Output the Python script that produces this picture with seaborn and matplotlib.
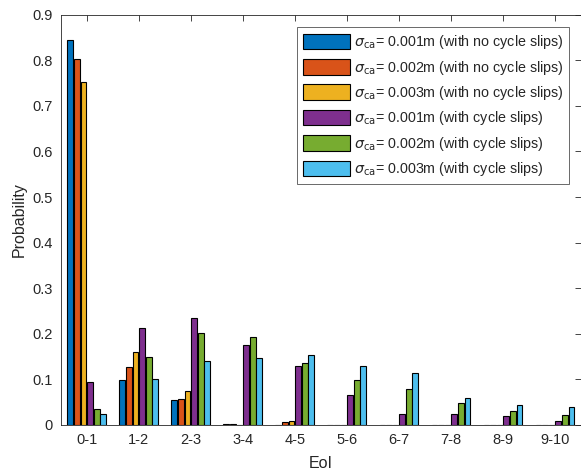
import pandas as pd
import seaborn as sns
import matplotlib.pyplot as plt

categories = ["0-1", "1-2", "2-3", "3-4", "4-5", "5-6", "6-7", "7-8", "8-9", "9-10"]

series_labels = [
    r"$\sigma_{\mathrm{ca}}$= 0.001m (with no cycle slips)",
    r"$\sigma_{\mathrm{ca}}$= 0.002m (with no cycle slips)",
    r"$\sigma_{\mathrm{ca}}$= 0.003m (with no cycle slips)",
    r"$\sigma_{\mathrm{ca}}$= 0.001m (with cycle slips)",
    r"$\sigma_{\mathrm{ca}}$= 0.002m (with cycle slips)",
    r"$\sigma_{\mathrm{ca}}$= 0.003m (with cycle slips)",
]

no_slip_001 = [0.844, 0.098, 0.054, 0.002, 0.001, 0.000, 0.000, 0.000, 0.000, 0.000]
no_slip_002 = [0.802, 0.128, 0.058, 0.002, 0.006, 0.001, 0.000, 0.001, 0.000, 0.000]
no_slip_003 = [0.753, 0.161, 0.075, 0.001, 0.009, 0.000, 0.000, 0.000, 0.000, 0.000]
slip_001 = [0.095, 0.212, 0.234, 0.175, 0.130, 0.065, 0.025, 0.025, 0.020, 0.009]
slip_002 = [0.034, 0.149, 0.201, 0.192, 0.136, 0.098, 0.080, 0.049, 0.031, 0.021]
slip_003 = [0.025, 0.100, 0.141, 0.148, 0.154, 0.130, 0.114, 0.060, 0.043, 0.039]

colors = ["#0072BD", "#D95319", "#EDB120", "#7E2F8E", "#77AC30", "#4DBEEE"]

all_series = [no_slip_001, no_slip_002, no_slip_003, slip_001, slip_002, slip_003]
rows = []
for label, vals in zip(series_labels, all_series):
    for cat, v in zip(categories, vals):
        rows.append({"EoI": cat, "Probability": v, "series": label})
df = pd.DataFrame(rows)

sns.set_style("white")
plt.rcParams["font.family"] = ["Liberation Sans", "DejaVu Sans"]
plt.rcParams["mathtext.fontset"] = "dejavusans"

fig = plt.figure(figsize=(5.81, 4.70), dpi=100)
ax = fig.add_axes([60.7 / 581, 1 - 425 / 470, 1 - 60.7 / 581, (425 - 14.7) / 470])

sns.barplot(
    data=df, x="EoI", y="Probability", hue="series", order=categories,
    hue_order=series_labels, palette=colors, saturation=1, width=0.76, gap=0.12,
    edgecolor="black", linewidth=0.8, ax=ax,
)

ax.set_xlim(-0.5, 9.5)
ax.set_ylim(0, 0.9)
ax.set_yticks([i / 10 for i in range(10)])
ax.set_yticklabels(["0"] + [f"{i / 10:.1f}" for i in range(1, 10)])
ax.tick_params(direction="in", length=4, width=0.6, colors="#262626",
               labelsize=10.5, top=True, right=True, pad=6)
for s in ax.spines.values():
    s.set_color("#262626")
    s.set_linewidth(0.6)
ax.set_xlabel("EoI", fontsize=11.5, color="#262626", labelpad=6)
ax.set_ylabel("Probability", fontsize=11.5, color="#262626", labelpad=4)

handles, labels = ax.get_legend_handles_labels()
leg = ax.legend(handles, labels, loc="upper right", bbox_to_anchor=(0.977, 0.969),
                fontsize=10.3, frameon=True, fancybox=False, edgecolor="#262626",
                handlelength=3.3, handleheight=1.3, handletextpad=0.25,
                labelspacing=0.52, borderpad=0.4, borderaxespad=0)
leg.get_frame().set_linewidth(0.6)

fig.savefig("out.png", dpi=100)
